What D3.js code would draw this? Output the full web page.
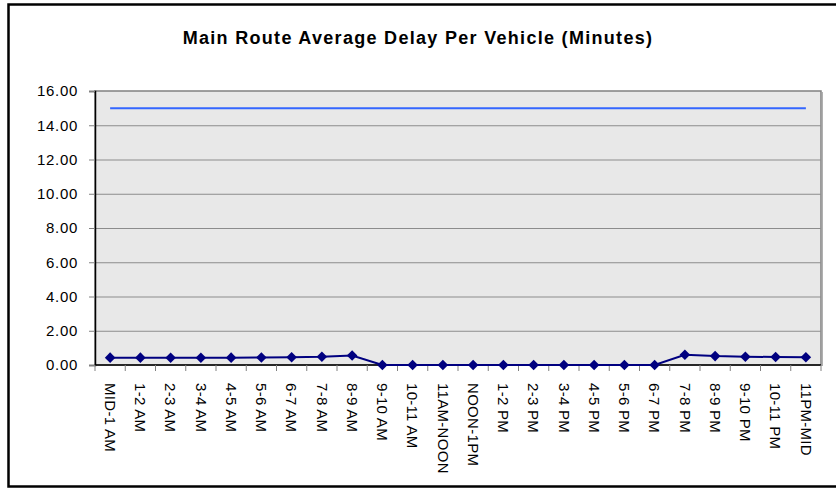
<!DOCTYPE html>
<html>
<head>
<meta charset="utf-8">
<title>Main Route Average Delay Per Vehicle</title>
<script src="https://d3js.org/d3.v7.min.js"></script>
<style>
  body { margin: 0; background: #fff; overflow: hidden; }
  svg { display: block; }
  svg text { font-family: "Liberation Sans", Arial, sans-serif; fill: #000; }
</style>
</head>
<body>
<script>
  var hours = ["MID-1 AM","1-2 AM","2-3 AM","3-4 AM","4-5 AM","5-6 AM","6-7 AM","7-8 AM","8-9 AM",
    "9-10 AM","10-11 AM","11AM-NOON","NOON-1PM","1-2 PM","2-3 PM","3-4 PM","4-5 PM","5-6 PM",
    "6-7 PM","7-8 PM","8-9 PM","9-10 PM","10-11 PM","11PM-MID"];
  var delay = [0.43,0.43,0.42,0.42,0.43,0.44,0.45,0.48,0.55,0,0,0,0,0,0,0,0,0,0,0.60,0.52,0.48,0.47,0.45];
  var threshold = [15,15,15,15,15,15,15,15,15,15,15,15,15,15,15,15,15,15,15,15,15,15,15,15];
  var yTicks = [0,2,4,6,8,10,12,14,16];

  var width = 836, height = 489;
  var plotL = 95, plotR = 821, plotT = 91, plotB = 365;

  var svg = d3.select("body").append("svg")
    .attr("width", width)
    .attr("height", height);

  // outer chart frame: left, top and bottom only (right edge runs off the picture)
  svg.append("path")
    .attr("d", "M" + width + ",4.5H8.5V486.5H" + width)
    .attr("fill", "none")
    .attr("stroke", "#000")
    .attr("stroke-width", 2.5);

  svg.append("text")
    .attr("x", 418).attr("y", 44)
    .attr("text-anchor", "middle")
    .style("font-size", "18px")
    .style("font-weight", "bold")
    .style("letter-spacing", "1.3px")
    .text("Main Route Average Delay Per Vehicle (Minutes)");

  var x = d3.scaleBand().domain(hours).range([plotL, plotR]).padding(0);
  var y = d3.scaleLinear().domain([0, 16]).range([plotB, plotT]);

  // plot area
  svg.append("rect")
    .attr("x", plotL).attr("y", plotT)
    .attr("width", plotR - plotL).attr("height", plotB - plotT)
    .attr("fill", "#e8e8e8")
    .attr("stroke", "#808080")
    .attr("stroke-width", 1.5);
  svg.append("line")
    .attr("x1", plotR + 1.5).attr("x2", plotR + 1.5)
    .attr("y1", plotT + 1).attr("y2", plotB + 1)
    .attr("stroke", "#b0b0b0").attr("stroke-width", 1);

  // gridlines
  svg.append("g")
    .selectAll("line")
    .data(yTicks.slice(1, -1))
    .enter().append("line")
    .attr("x1", plotL).attr("x2", plotR)
    .attr("y1", function(d){ return y(d) + 0.5; })
    .attr("y2", function(d){ return y(d) + 0.5; })
    .attr("stroke", "#8c8c8c");

  // y axis
  var yAxis = svg.append("g")
    .attr("transform", "translate(" + plotL + ",0)")
    .call(d3.axisLeft(y).tickValues(yTicks).tickFormat(d3.format(".2f")).tickSize(6).tickPadding(11));
  yAxis.select(".domain").attr("stroke", "#000").attr("stroke-width", 1.5);
  yAxis.selectAll(".tick line").attr("stroke", "#808080");
  yAxis.selectAll("text")
    .style("font-size", "15px")
    .style("letter-spacing", "0.7px")
    .attr("fill", "#000");

  // x axis
  var xAxis = svg.append("g")
    .attr("transform", "translate(0," + plotB + ")");
  xAxis.append("line")
    .attr("x1", plotL).attr("x2", plotR)
    .attr("stroke", "#000").attr("stroke-width", 1.5);
  xAxis.selectAll(".tk")
    .data(hours.concat(["end"]))
    .enter().append("line")
    .attr("class", "tk")
    .attr("x1", function(d, i){ return i < hours.length ? x(d) : plotR; })
    .attr("x2", function(d, i){ return i < hours.length ? x(d) : plotR; })
    .attr("y1", 0).attr("y2", 6)
    .attr("stroke", "#808080");
  xAxis.selectAll(".lbl")
    .data(hours)
    .enter().append("text")
    .attr("class", "lbl")
    .attr("transform", function(d){
      return "translate(" + (x(d) + x.bandwidth() / 2) + ",18) rotate(90)";
    })
    .attr("dy", "0.35em")
    .style("font-size", "15px")
    .style("letter-spacing", "0.3px")
    .text(function(d){ return d; });

  var line = d3.line()
    .x(function(d, i){ return x(hours[i]) + x.bandwidth() / 2; })
    .y(function(d){ return y(d); });

  svg.append("path")
    .datum(threshold)
    .attr("d", line)
    .attr("fill", "none")
    .attr("stroke", "#3366ff")
    .attr("stroke-width", 2);

  svg.append("path")
    .datum(delay)
    .attr("d", line)
    .attr("fill", "none")
    .attr("stroke", "#000080")
    .attr("stroke-width", 2);

  svg.append("g")
    .selectAll("path")
    .data(delay)
    .enter().append("path")
    .attr("d", d3.symbol().type(d3.symbolSquare).size(56))
    .attr("transform", function(d, i){
      return "translate(" + (x(hours[i]) + x.bandwidth() / 2) + "," + y(d) + ") rotate(45)";
    })
    .attr("fill", "#000080");
</script>
</body>
</html>
